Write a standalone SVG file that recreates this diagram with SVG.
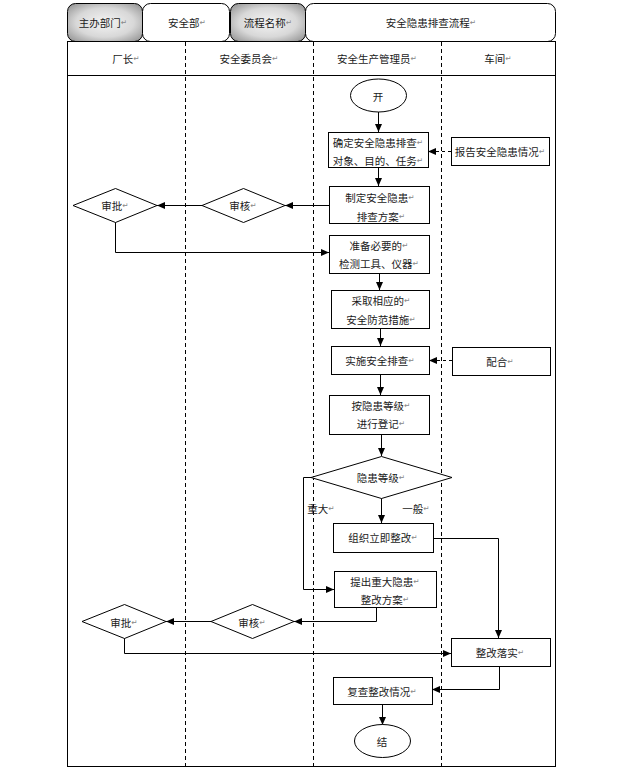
<svg xmlns="http://www.w3.org/2000/svg" width="620" height="769" viewBox="0 0 620 769">
<defs>
<radialGradient id="gg" cx="50%" cy="50%" r="70%">
<stop offset="0" stop-color="#f4f4f4"/>
<stop offset="0.55" stop-color="#d8d8d8"/>
<stop offset="1" stop-color="#8c8c8c"/>
</radialGradient>
<marker id="ar" markerWidth="9" markerHeight="8" refX="8" refY="3.5" orient="auto" markerUnits="userSpaceOnUse">
<path d="M0,0 L8,3.5 L0,7 z" fill="#000"/>
</marker>
<style>
text{font-family:"Noto Sans CJK SC","Noto Sans",sans-serif;font-size:10.5px;fill:#1a1a1a;text-anchor:middle;dominant-baseline:central}
.rm{font-family:"DejaVu Sans",sans-serif;font-size:7.5px;fill:#888}
.box{fill:#fff;stroke:#000;stroke-width:1}
.hd{stroke:#000;stroke-width:1}
.ln{fill:none;stroke:#000;stroke-width:1;marker-end:url(#ar)}
.dl{fill:none;stroke:#000;stroke-width:1;stroke-dasharray:3,3;marker-end:url(#ar)}
.dv{stroke:#000;stroke-width:1;stroke-dasharray:4,3}
</style>
</defs>
<rect width="620" height="769" fill="#fff"/>

<g id="header">
<rect class="hd" x="67.5" y="3.5" width="75" height="38" rx="8" fill="url(#gg)"/>
<text x="103" y="22">主办部门<tspan class="rm">↵</tspan></text>
<rect class="hd" x="142.5" y="3.5" width="87" height="38" rx="8" fill="#fff"/>
<text x="187" y="22">安全部<tspan class="rm">↵</tspan></text>
<rect class="hd" x="230.5" y="3.5" width="75" height="38" rx="8" fill="url(#gg)"/>
<text x="268" y="22">流程名称<tspan class="rm">↵</tspan></text>
<rect class="hd" x="305.5" y="3.5" width="250" height="38" rx="8" fill="#fff"/>
<text x="431" y="22">安全隐患排查流程<tspan class="rm">↵</tspan></text>
</g>

<g id="lanes">
<rect x="67.5" y="41.5" width="488" height="725" fill="none" stroke="#000"/>
<line x1="67" y1="75.5" x2="556" y2="75.5" stroke="#000"/>
<line class="dv" x1="185.5" y1="42" x2="185.5" y2="766"/>
<line class="dv" x1="313.5" y1="42" x2="313.5" y2="766"/>
<line class="dv" x1="441.5" y1="42" x2="441.5" y2="766"/>
<text x="126" y="58">厂长<tspan class="rm">↵</tspan></text>
<text x="249" y="58">安全委员会<tspan class="rm">↵</tspan></text>
<text x="377" y="58">安全生产管理员<tspan class="rm">↵</tspan></text>
<text x="498" y="58">车间<tspan class="rm">↵</tspan></text>
</g>

<g id="connectors">
<path class="ln" d="M378.5,112 V132"/>
<path class="dl" d="M451,151.5 H428"/>
<path class="ln" d="M378.5,167 V186"/>
<path class="ln" d="M329,205.5 H285"/>
<path class="ln" d="M202,205.5 H157"/>
<path class="ln" d="M115.5,222 V252.5 H329"/>
<path class="ln" d="M379.5,273 V290"/>
<path class="ln" d="M380.5,328 V346"/>
<path class="dl" d="M452,360.5 H429"/>
<path class="ln" d="M380.5,374 V395"/>
<path class="ln" d="M381.5,434 V456"/>
<path class="ln" d="M381.5,498 V523"/>
<path class="ln" d="M311,477.5 H303.5 V589.5 H334"/>
<path class="ln" d="M376.5,607 V621.5 H294"/>
<path class="ln" d="M211,621.5 H166"/>
<path class="ln" d="M433,538.5 H498.5 V638"/>
<path class="ln" d="M124.5,638 V653.5 H451"/>
<path class="ln" d="M499.5,666 V689.5 H432"/>
<path class="ln" d="M382.5,704 V725"/>
</g>

<g id="n-start"><ellipse class="box" cx="378.5" cy="95.5" rx="28" ry="16.5"/><text x="378" y="96">开</text></g>
<g id="n-confirm"><rect class="box" x="328.5" y="132.5" width="100" height="35"/><text x="378" y="142">确定安全隐患排查<tspan class="rm">↵</tspan></text><text x="378" y="160">对象、目的、任务<tspan class="rm">↵</tspan></text></g>
<g id="n-report"><rect class="box" x="451.5" y="137.5" width="98" height="28"/><text x="500" y="151">报告安全隐患情况<tspan class="rm">↵</tspan></text></g>
<g id="n-plan"><rect class="box" x="329.5" y="186.5" width="100" height="37"/><text x="380" y="197">制定安全隐患<tspan class="rm">↵</tspan></text><text x="381" y="216">排查方案<tspan class="rm">↵</tspan></text></g>
<g id="n-approve1"><polygon class="box" points="73,205.5 115.5,188.5 157,205.5 115.5,222.5"/><text x="115" y="205">审批<tspan class="rm">↵</tspan></text></g>
<g id="n-review1"><polygon class="box" points="202,205.5 243.5,188.5 285,205.5 243.5,222.5"/><text x="243" y="205">审核<tspan class="rm">↵</tspan></text></g>
<g id="n-prepare"><rect class="box" x="329.5" y="235.5" width="100" height="38"/><text x="379" y="245">准备必要的<tspan class="rm">↵</tspan></text><text x="379" y="263">检测工具、仪器<tspan class="rm">↵</tspan></text></g>
<g id="n-measures"><rect class="box" x="331.5" y="290.5" width="98" height="38"/><text x="381" y="300">采取相应的<tspan class="rm">↵</tspan></text><text x="381" y="319">安全防范措施<tspan class="rm">↵</tspan></text></g>
<g id="n-implement"><rect class="box" x="331.5" y="346.5" width="98" height="28"/><text x="380" y="360">实施安全排查<tspan class="rm">↵</tspan></text></g>
<g id="n-cooperate"><rect class="box" x="452.5" y="347.5" width="98" height="28"/><text x="500" y="361">配合<tspan class="rm">↵</tspan></text></g>
<g id="n-register"><rect class="box" x="329.5" y="395.5" width="100" height="39"/><text x="381" y="405">按隐患等级<tspan class="rm">↵</tspan></text><text x="381" y="423">进行登记<tspan class="rm">↵</tspan></text></g>
<g id="n-level"><polygon class="box" points="311,477.5 381.5,456.5 452,477.5 381.5,498.5"/><text x="381" y="477">隐患等级<tspan class="rm">↵</tspan></text></g>
<g id="l-major"><text x="321" y="508">重大<tspan class="rm">↵</tspan></text></g>
<g id="l-general"><text x="416" y="508">一般<tspan class="rm">↵</tspan></text></g>
<g id="n-organize"><rect class="box" x="333.5" y="523.5" width="100" height="29"/><text x="383" y="537">组织立即整改<tspan class="rm">↵</tspan></text></g>
<g id="n-propose"><rect class="box" x="334.5" y="571.5" width="102" height="36"/><text x="385" y="581">提出重大隐患<tspan class="rm">↵</tspan></text><text x="385" y="599">整改方案<tspan class="rm">↵</tspan></text></g>
<g id="n-approve2"><polygon class="box" points="82,621.5 124.5,604.5 166,621.5 124.5,638.5"/><text x="124" y="622">审批<tspan class="rm">↵</tspan></text></g>
<g id="n-review2"><polygon class="box" points="211,621.5 252.5,604.5 294,621.5 252.5,638.5"/><text x="252" y="622">审核<tspan class="rm">↵</tspan></text></g>
<g id="n-rectify"><rect class="box" x="451.5" y="638.5" width="99" height="28"/><text x="500" y="652">整改落实<tspan class="rm">↵</tspan></text></g>
<g id="n-recheck"><rect class="box" x="333.5" y="677.5" width="99" height="27"/><text x="382" y="691">复查整改情况<tspan class="rm">↵</tspan></text></g>
<g id="n-end"><ellipse class="box" cx="382.5" cy="741" rx="28" ry="16.5"/><text x="382" y="741">结</text></g>
</svg>
